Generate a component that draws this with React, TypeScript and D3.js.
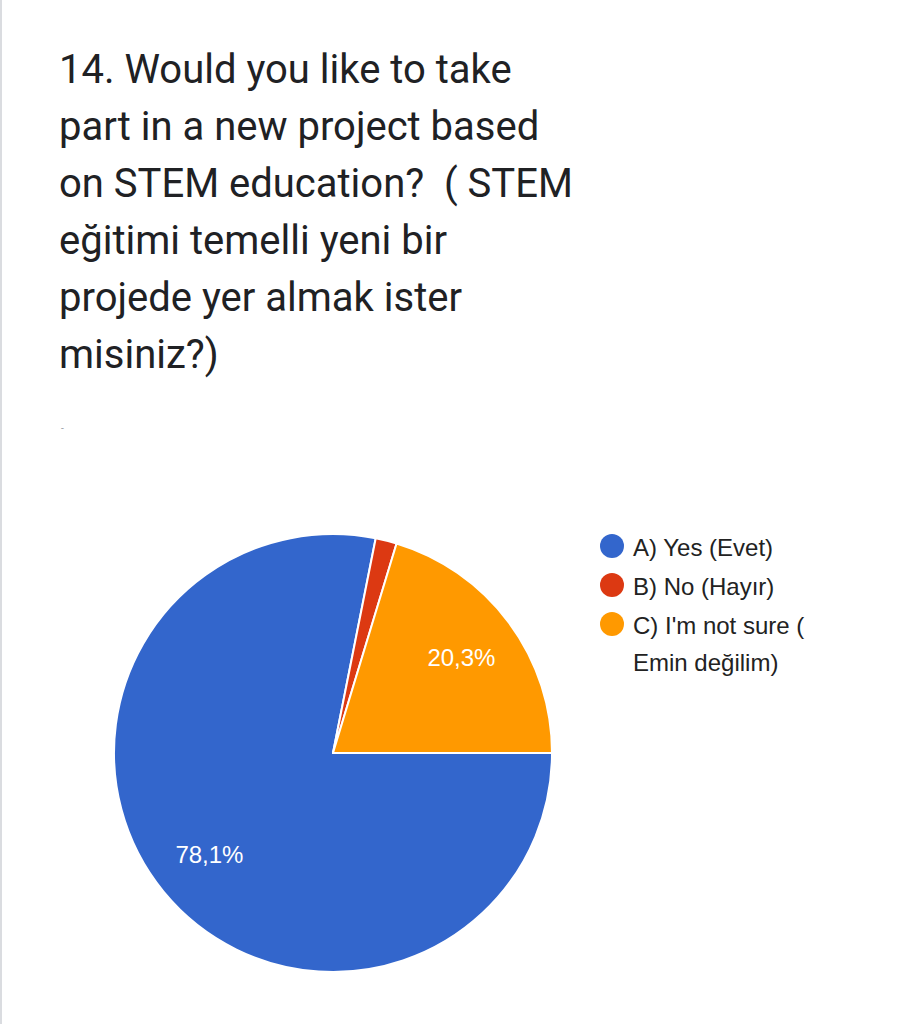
import * as d3 from 'd3'

const TITLE_LINES = [
  '14. Would you like to take',
  'part in a new project based',
  'on STEM education?\u00a0\u00a0( STEM',
  'eğitimi temelli yeni bir',
  'projede yer almak ister',
  'misiniz?)',
]

const CATEGORIES = ['A) Yes (Evet)', 'B) No (Hayır)', "C) I'm not sure ( Emin değilim)"]
const LEGEND_LINES = [['A) Yes (Evet)'], ['B) No (Hayır)'], ["C) I'm not sure (", 'Emin değilim)']]
const COUNTS = [50, 1, 13]
const COLORS = ['#3366cc', '#dc3912', '#ff9900']

const W = 906
const H = 1024

export default function App() {
  const cx = 333
  const cy = 753
  const R = 219

  const total = d3.sum(COUNTS)
  const pie = d3.pie<number>()
    .sort(null)
    .startAngle(Math.PI / 2)
    .endAngle(Math.PI / 2 + 2 * Math.PI)
  const arcs = pie(COUNTS)
  const arc = d3.arc<d3.PieArcDatum<number>>().innerRadius(0).outerRadius(R)
  const labelArc = d3.arc<d3.PieArcDatum<number>>().innerRadius(R * 0.73).outerRadius(R * 0.73)
  const fmt = (v: number) => (v / total * 100).toFixed(1).replace('.', ',') + '%'

  const legendY = d3.scaleLinear().domain([0, 1]).range([546, 585])

  return (
    <svg width={W} height={H} style={{ position: 'fixed', left: 0, top: 0, background: '#fff' }}>
      <rect x={0} y={0} width={W} height={H} fill="#ffffff" />
      <line x1={1} y1={0} x2={1} y2={H} stroke="#dadce0" strokeWidth={2} />

      <g fontFamily="Roboto, 'Open Sans', sans-serif" fontSize={40} fill="#202124">
        {TITLE_LINES.map((t, i) => (
          <text key={i} x={59} y={83 + i * 57}>{t}</text>
        ))}
      </g>
      <text x={61} y={432} fontSize={10} fill="#9aa0a6" fontFamily="Roboto, sans-serif">-</text>

      <g transform={`translate(${cx},${cy})`}>
        {arcs.map((a, i) => (
          <path key={CATEGORIES[i]} d={arc(a) ?? ''} fill={COLORS[i]} stroke="#ffffff" strokeWidth={2} strokeLinejoin="round" />
        ))}
        {arcs.map((a, i) => {
          if (a.endAngle - a.startAngle < 0.3) return null
          const [lx, ly] = labelArc.centroid(a)
          return (
            <text key={i} x={lx} y={ly} dy="0.36em" textAnchor="middle"
              fontFamily="'Liberation Sans', Arial, sans-serif" fontSize={24} fill="#ffffff">
              {fmt(a.data)}
            </text>
          )
        })}
      </g>

      <g fontFamily="'Liberation Sans', Arial, sans-serif" fontSize={24} fill="#222222">
        {LEGEND_LINES.map((lines, i) => (
          <g key={i}>
            <circle cx={612} cy={legendY(i)} r={12} fill={COLORS[i]} />
            {lines.map((l, j) => (
              <text key={j} x={633} y={legendY(i) + 10 + j * 37}>{l}</text>
            ))}
          </g>
        ))}
      </g>
    </svg>
  )
}
